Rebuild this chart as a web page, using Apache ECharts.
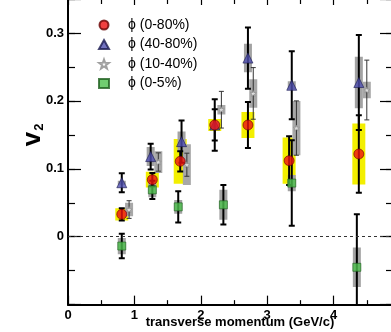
<!DOCTYPE html>
<html><head><meta charset="utf-8">
<script src="https://cdn.jsdelivr.net/npm/echarts@6/dist/echarts.min.js"></script>
<style>html,body{margin:0;padding:0;background:#fff}#c{width:391px;height:332px}</style>
</head><body><div id="c"></div><script>
// ---- data ----
const seriesNames = ['\u03D5 (0-80%)', '\u03D5 (40-80%)', '\u03D5 (10-40%)', '\u03D5 (0-5%)'];

const redX    = [0.81, 1.27, 1.69, 2.21, 2.71, 3.33, 4.38];
const redY    = [0.033, 0.084, 0.111, 0.1645, 0.1645, 0.112, 0.1218];
const redStat = [0.009, 0.010, 0.015, 0.023, 0.034, 0.036, 0.057];
const redSys  = [0.009, 0.0115, 0.033, 0.009, 0.019, 0.034, 0.045];

const blueX    = [0.81, 1.245, 1.71, 2.21, 2.71, 3.37, 4.38];
const blueY    = [0.0795, 0.118, 0.140, 0.1645, 0.263, 0.223, 0.227];
const blueStat = [0.014, 0.019, 0.031, 0.038, 0.045, 0.050, 0.070];
const blueSys  = [0.003, 0.014, 0.015, 0.005, 0.021, 0.006, 0.038];

const whiteX    = [0.92, 1.36, 1.79, 2.31, 2.79, 3.44, 4.50];
const whiteY    = [0.040, 0.110, 0.106, 0.187, 0.211, 0.160, 0.216];
const whiteStat = [0.013, 0.0135, 0.017, 0.027, 0.038, 0.040, 0.044];
const whiteSys  = [0.010, 0.016, 0.030, 0.007, 0.021, 0.040, 0.012];

const greenX    = [0.81, 1.27, 1.66, 2.34, 3.37, 4.35];
const greenY    = [-0.0137, 0.069, 0.044, 0.047, 0.079, -0.045];
const greenStat = [0.018, 0.0135, 0.023, 0.029, 0.063, 0.078];
const greenSys  = [0.012, 0.011, 0.010, 0.022, 0.012, 0.029];

const xTickLabels = ['0', '1', '2', '3', '4'];
const yTickLabels = ['0', '0.1', '0.2', '0.3'];
const xTitle = 'transverse momentum (GeV/c)';

// ---- build ----
const FONT = "'Liberation Sans', 'DejaVu Sans', Arial, sans-serif";
const rows = (xs, ys, es) => xs.map((x, i) => [x, ys[i], es[i]]);
const pts = (xs, ys) => xs.map((x, i) => [x, ys[i]]);

function boxSeries(data, w, color) {
  return {
    type: 'custom', data: data, clip: true, silent: true,
    encode: { x: 0, y: 1 },
    renderItem: function (params, api) {
      const x = api.value(0), y = api.value(1), e = api.value(2);
      const a = api.coord([x, y + e]), b = api.coord([x, y - e]);
      return { type: 'rect', shape: { x: a[0] - w / 2, y: a[1], width: w, height: b[1] - a[1] },
               style: { fill: color } };
    }
  };
}
function errSeries(data, cap, lw, color) {
  return {
    type: 'custom', data: data, clip: true, silent: true,
    encode: { x: 0, y: 1 },
    renderItem: function (params, api) {
      const x = api.value(0), y = api.value(1), e = api.value(2);
      const a = api.coord([x, y + e]), b = api.coord([x, y - e]);
      const st = { stroke: color, lineWidth: lw };
      return { type: 'group', children: [
        { type: 'line', shape: { x1: a[0], y1: a[1], x2: b[0], y2: b[1] }, style: st },
        { type: 'line', shape: { x1: a[0] - cap, y1: a[1], x2: a[0] + cap, y2: a[1] }, style: st },
        { type: 'line', shape: { x1: b[0] - cap, y1: b[1], x2: b[0] + cap, y2: b[1] }, style: st }
      ]};
    }
  };
}
const starPath = 'path://M0,-10 L2.35,-3.24 9.51,-3.09 3.8,1.24 5.88,8.09 0,4 -5.88,8.09 -3.8,1.24 -9.51,-3.09 -2.35,-3.24Z';

const xLabelFmt = v => { const r = Math.round(v); return (Math.abs(v - r) < 1e-6 && xTickLabels.indexOf(String(r)) >= 0) ? String(r) : ''; };
const yLabelFmt = v => {
  const r = Math.round(v * 10);
  if (Math.abs(v * 10 - r) > 1e-6) return '';
  const s = r === 0 ? '0' : (r / 10).toFixed(1);
  return yTickLabels.indexOf(s) >= 0 ? s : '';
};

const black = '#000';
const xAxisCommon = { type: 'value', min: 0, max: 5, interval: 1, splitLine: { show: false } };
const yAxisCommon = { type: 'value', min: -0.1, max: 0.35, splitLine: { show: false } };

const option = {
  animation: false,
  backgroundColor: '#fff',
  grid: { left: 68, top: -1, width: 332, height: 305.65, containLabel: false, outerBoundsMode: 'none' },
  xAxis: [
    Object.assign({}, xAxisCommon, {
      position: 'bottom',
      axisLine: { onZero: false, lineStyle: { color: black, width: 2 } },
      axisTick: { inside: true, length: 9, lineStyle: { color: black, width: 1.2 } },
      minorTick: { show: true, splitNumber: 2, length: 4.5, lineStyle: { color: black, width: 1.2 } },
      axisLabel: { formatter: xLabelFmt, margin: 4, color: black, fontWeight: 'bold', fontSize: 13, fontFamily: FONT },
      name: xTitle, nameLocation: 'middle', nameGap: 11, nameMoveOverlap: false,
      nameTextStyle: { color: black, fontWeight: 'bold', fontSize: 13, fontFamily: FONT, verticalAlign: 'top', padding: [0, 0, 0, 12] }
    }),
    Object.assign({}, xAxisCommon, {
      position: 'top',
      axisLine: { onZero: false, lineStyle: { color: black, width: 2 } },
      axisTick: { inside: true, length: 6, lineStyle: { color: black, width: 1.2 } },
      minorTick: { show: true, splitNumber: 2, length: 5, lineStyle: { color: black, width: 1.2 } },
      axisLabel: { show: false }
    })
  ],
  yAxis: [
    Object.assign({}, yAxisCommon, {
      position: 'left', interval: 0.1,
      axisLine: { onZero: false, lineStyle: { color: black, width: 2 } },
      axisTick: { inside: true, length: 13, lineStyle: { color: black, width: 1.2 } },
      axisLabel: { formatter: yLabelFmt, margin: 4, color: black, fontWeight: 'bold', fontSize: 13, fontFamily: FONT },
      name: '{v|v}{s|2}', nameLocation: 'middle', nameGap: 22, nameRotate: 90, nameMoveOverlap: false,
      nameTextStyle: { padding: [0, 0, 0, 34], rich: {
        v: { fontSize: 26, fontWeight: 'bold', fontFamily: FONT, color: black },
        s: { fontSize: 13, fontWeight: 'bold', fontFamily: FONT, color: black, padding: [14, 0, 0, 1] }
      } }
    }),
    Object.assign({}, yAxisCommon, {
      position: 'left', interval: 0.05,
      axisLine: { show: false, onZero: false },
      axisTick: { inside: true, length: 7, lineStyle: { color: black, width: 1.2 } },
      axisLabel: { show: false }
    }),
    Object.assign({}, yAxisCommon, {
      position: 'right', interval: 0.1, offset: -7,
      axisLine: { onZero: false, lineStyle: { color: black, width: 2 } },
      axisTick: { inside: true, length: 13, lineStyle: { color: black, width: 1.2 } },
      axisLabel: { show: false }
    }),
    Object.assign({}, yAxisCommon, {
      position: 'right', interval: 0.05, offset: -7,
      axisLine: { show: false, onZero: false },
      axisTick: { inside: true, length: 7, lineStyle: { color: black, width: 1.2 } },
      axisLabel: { show: false }
    })
  ],
  legend: {
    orient: 'vertical', left: 93, top: 13,
    itemWidth: 10, itemHeight: 9, itemGap: 5.5,
    data: seriesNames,
    textStyle: { color: black, fontSize: 14, fontFamily: FONT, lineHeight: 14, padding: [0, 0, 0, 14] }
  },
  series: [
    boxSeries(rows(redX, redY, redSys), 13, '#f3ef00'),
    boxSeries(rows(blueX, blueY, blueSys), 8, '#a3a3a3'),
    boxSeries(rows(whiteX, whiteY, whiteSys), 8, '#a8a8a8'),
    boxSeries(rows(greenX, greenY, greenSys), 8, '#a3a3a3'),
    errSeries(rows(whiteX, whiteY, whiteStat), 2.5, 1, '#333'),
    errSeries(rows(blueX, blueY, blueStat), 3, 2, black),
    errSeries(rows(greenX, greenY, greenStat), 3, 2, black),
    errSeries(rows(redX, redY, redStat), 3, 2, black),
    {
      type: 'line', data: [], silent: true,
      markLine: { silent: true, symbol: 'none', label: { show: false },
        lineStyle: { color: '#333', width: 1, type: [3, 3] }, data: [{ yAxis: 0 }] }
    },
    { name: seriesNames[2], type: 'scatter', data: pts(whiteX, whiteY), symbol: starPath, symbolSize: 6,
      itemStyle: { color: '#fff', borderColor: '#888', borderWidth: 0.8 } },
    { name: seriesNames[1], type: 'scatter', data: pts(blueX, blueY), symbol: 'triangle', symbolSize: 10,
      itemStyle: { color: '#4f4fb0', borderColor: '#1a1a50', borderWidth: 0.8 } },
    { name: seriesNames[3], type: 'scatter', data: pts(greenX, greenY), symbol: 'rect', symbolSize: 8,
      itemStyle: { color: '#4cc04c', borderColor: '#1f5f1f', borderWidth: 0.8 } },
    { name: seriesNames[0], type: 'scatter', data: pts(redX, redY), symbol: 'circle', symbolSize: 10,
      itemStyle: { color: '#ee1010', borderColor: '#600', borderWidth: 0.8 } }
  ]
};
const chart = echarts.init(document.getElementById('c'), null, { renderer: 'canvas' });
chart.setOption(option);
</script></body></html>
